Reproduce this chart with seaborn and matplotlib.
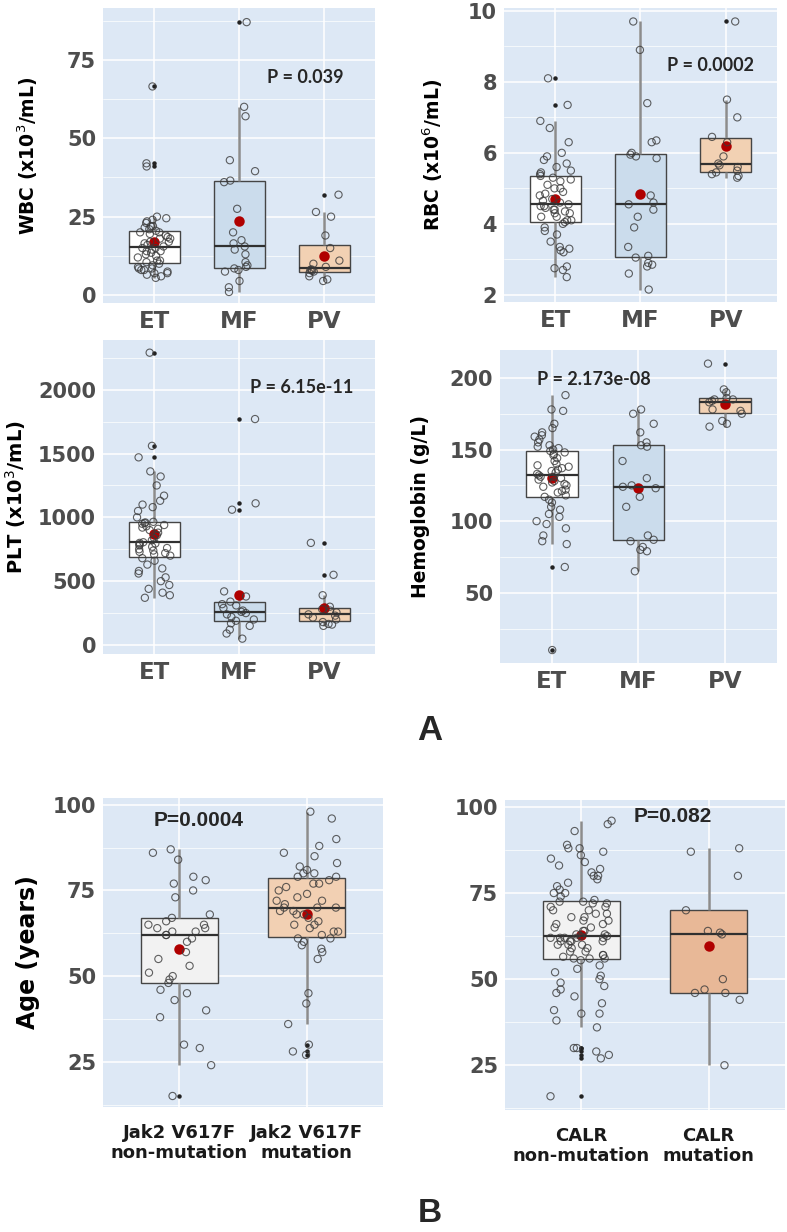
import numpy as np
import pandas as pd
import matplotlib.pyplot as plt
import seaborn as sns
from matplotlib.ticker import MultipleLocator

#------------------------------------------------------------------------------
# data
groups3 = ['ET', 'MF', 'PV']

wbc_et = [5.5, 6, 6.5, 7, 7, 7.5, 8, 8, 8.5, 8.5, 9, 9.5, 10, 10.5, 11, 11, 12, 12.5,
          13, 13.5, 14, 14, 14.5, 15, 15, 15.5, 16, 16.5, 17, 17, 18, 18, 18.5, 19,
          19.5, 20, 20, 20.5, 21, 21.5, 22, 22, 23, 23.5, 24, 24.5, 25, 41, 42, 66.5]
wbc_mf = [1, 2.5, 4.5, 7.5, 8, 8.5, 9, 9.5, 10.5, 13, 14.5, 15.5, 16.5, 17.5, 20,
          27.5, 36, 36.5, 39.5, 43, 57, 60, 87]
wbc_pv = [4.5, 5, 6, 7, 7.5, 7.8, 8, 8.2, 9, 10, 11, 15, 19, 25, 26.5, 32]

rbc_et = [2.5, 2.7, 2.75, 2.8, 3.2, 3.25, 3.3, 3.35, 3.5, 3.7, 3.8, 3.9, 4.0, 4.05,
          4.1, 4.1, 4.2, 4.2, 4.3, 4.3, 4.35, 4.4, 4.4, 4.45, 4.5, 4.5, 4.55, 4.6,
          4.65, 4.7, 4.8, 4.85, 4.9, 5.0, 5.0, 5.1, 5.2, 5.25, 5.3, 5.35, 5.4, 5.45,
          5.5, 5.6, 5.7, 5.8, 5.9, 6.0, 6.3, 6.7, 6.9, 7.35, 8.1]
rbc_mf = [2.15, 2.6, 2.8, 2.85, 2.9, 3.05, 3.1, 3.35, 3.9, 4.2, 4.4, 4.55, 4.6, 4.8,
          5.85, 5.9, 5.95, 6.0, 6.3, 6.35, 7.4, 8.9, 9.7]
rbc_pv = [5.3, 5.35, 5.4, 5.45, 5.5, 5.6, 5.65, 5.7, 5.9, 6.3, 6.45, 7.0, 7.5, 9.7]

plt_et = [370, 390, 410, 440, 470, 500, 530, 560, 580, 600, 630, 660, 680, 700, 710,
          720, 730, 740, 750, 760, 770, 780, 790, 795, 800, 805, 820, 840, 860, 880,
          900, 910, 920, 930, 940, 950, 955, 960, 965, 1000, 1050, 1080, 1100, 1130,
          1170, 1250, 1320, 1360, 1470, 1560, 2290]
plt_mf = [50, 90, 120, 150, 170, 190, 200, 220, 240, 250, 260, 270, 290, 310, 320,
          340, 380, 420, 1060, 1110, 1770]
plt_pv = [150, 160, 165, 180, 200, 215, 230, 240, 255, 270, 280, 300, 390, 550, 800]

hb_et = [10, 68, 84, 86, 90, 95, 98, 100, 103, 105, 108, 110, 113, 115, 117, 118, 120,
         121, 122, 124, 125, 126, 127, 128, 129, 130, 131, 131, 132, 133, 134, 135,
         136, 137, 138, 139, 140, 142, 144, 146, 147, 148, 149, 150, 151, 152, 153,
         155, 157, 159, 160, 162, 165, 168, 177, 178, 188]
hb_mf = [65, 79, 80, 82, 86, 87, 90, 110, 117, 123, 124, 125, 130, 142, 152, 153, 155,
         162, 168, 175, 178]
hb_pv = [166, 168, 170, 175, 177, 178, 183, 184, 185, 185, 186, 190, 192, 210]

jak2_groups = ['Jak2 V617F\nnon-mutation', 'Jak2 V617F\nmutation']
age_jak2_non = [15, 24, 29, 30, 38, 40, 43, 45, 46, 48, 49, 50, 51, 53, 55, 57, 60, 61,
                62, 62, 63, 63, 64, 64, 65, 65, 66, 67, 68, 73, 75, 77, 78, 79, 84, 86, 87]
age_jak2_mut = [27, 28, 30, 36, 42, 45, 55, 57, 58, 59, 60, 61, 61, 62, 63, 63, 64, 65,
                65, 66, 67, 68, 68, 69, 69, 70, 70, 70, 71, 72, 72, 73, 74, 75, 76, 77,
                77, 78, 79, 79, 80, 80, 81, 82, 83, 85, 86, 88, 90, 96, 98]

calr_groups = ['CALR\nnon-mutation', 'CALR\nmutation']
age_calr_non = [16, 27, 28, 29, 30, 30, 36, 38, 40, 40, 41, 43, 45, 46, 47, 48, 49, 50,
                51, 52, 53, 54, 55.5, 56, 56, 56, 56.5, 57, 57, 58, 58, 59, 59, 60, 60,
                60, 61, 61, 61, 61, 62, 62, 62, 62, 62, 62.5, 62.5, 63, 63, 64, 64, 65,
                65, 66, 66, 67, 67, 68, 68, 69, 69, 70, 70, 71, 71, 72, 72, 72.5, 72.5,
                73, 74, 75, 75, 76, 77, 78, 79, 80, 80, 81, 82, 83, 84, 85, 86, 87, 88,
                88, 89, 93, 95, 96]
age_calr_mut = [25, 44, 46, 46, 47, 50, 63, 63.5, 64, 70, 80, 87, 88]

#------------------------------------------------------------------------------
sns.set_style('white')
plt.rcParams['font.family'] = ['DejaVu Sans']
np.random.seed(3)

panel_bg = '#dde8f5'
pal3 = ['#ffffff', '#c6dcf1', '#fdd0a8']


def to_long(groups, values):
    rows = []
    for g, vals in zip(groups, values):
        for v in vals:
            rows.append((g, v))
    return pd.DataFrame(rows, columns=['group', 'value'])


def draw_panel(ax, groups, values, palette, ylim, major, jitter):
    df = to_long(groups, values)
    ax.set_facecolor(panel_bg)
    sns.boxplot(data=df, x='group', y='value', order=groups, hue='group',
                hue_order=groups, palette=palette, legend=False, width=0.6,
                showcaps=False, linewidth=1, ax=ax,
                boxprops=dict(edgecolor='#454545'),
                medianprops=dict(color='#303030', linewidth=1.6),
                whiskerprops=dict(color='#8c8c8c', linewidth=1.8),
                flierprops=dict(marker='o', markersize=2.2, markerfacecolor='#222222',
                                markeredgecolor='#222222'))
    n0 = len(ax.collections)
    sns.stripplot(data=df, x='group', y='value', order=groups, jitter=jitter, size=5.2,
                  color='#666666', linewidth=0.8, edgecolor='#3a3a3a', alpha=0.8, ax=ax)
    for c in ax.collections[n0:]:
        c.set_facecolor('none')
    sns.pointplot(data=df, x='group', y='value', order=groups, estimator='mean',
                  errorbar=None, color='#b00000', markers='o', linestyle='none',
                  markersize=5.5, ax=ax)
    ax.set_xlim(-0.6, len(groups) - 0.4)
    ax.set_ylim(*ylim)
    ax.yaxis.set_major_locator(MultipleLocator(major))
    ax.yaxis.set_minor_locator(MultipleLocator(major / 2))
    ax.set_axisbelow(True)
    ax.grid(which='major', color='white', linewidth=1.1)
    ax.grid(which='minor', axis='y', color='white', linewidth=0.5)
    for s in ax.spines.values():
        s.set_visible(False)
    ax.tick_params(axis='both', which='major', length=3, color='#777777',
                   labelcolor='#4d4d4d', labelsize=15, pad=2)
    ax.tick_params(which='minor', length=0)
    for lbl in ax.get_yticklabels() + ax.get_xticklabels():
        lbl.set_fontweight('bold')
    ax.set_xlabel('')
    ax.set_ylabel('')


fig = plt.figure(figsize=(7.87, 12.32), dpi=100)

# WBC
ax1 = fig.add_axes([0.1309, 0.7541, 0.3456, 0.2394])
draw_panel(ax1, groups3, [wbc_et, wbc_mf, wbc_pv], pal3, (-2.5, 91.5), 25, 0.2)
ax1.set_ylabel('WBC (x10$^3$/mL)', fontsize=13.5, fontweight='bold', color='black')
ax1.yaxis.set_label_coords(-0.232, 0.5)
ax1.text(0.743, 0.763, 'P = 0.039', transform=ax1.transAxes, ha='center', va='center',
         fontsize=13, fontweight='bold', family='Lato')

# RBC
ax2 = fig.add_axes([0.6404, 0.7549, 0.3469, 0.2386])
draw_panel(ax2, groups3, [rbc_et, rbc_mf, rbc_pv], pal3, (1.8, 10.08), 2, 0.2)
ax2.set_ylabel('RBC (x10$^6$/mL)', fontsize=13.5, fontweight='bold', color='black')
ax2.yaxis.set_label_coords(-0.216, 0.5)
ax2.text(0.755, 0.806, 'P = 0.0002', transform=ax2.transAxes, ha='center', va='center',
         fontsize=13, fontweight='bold', family='Lato')

# PLT
ax3 = fig.add_axes([0.1309, 0.4692, 0.3456, 0.2549])
draw_panel(ax3, groups3, [plt_et, plt_mf, plt_pv], pal3, (-70, 2390), 500, 0.2)
ax3.set_ylabel('PLT (x10$^3$/mL)', fontsize=14, fontweight='bold', color='black')
ax3.yaxis.set_label_coords(-0.275, 0.5)
ax3.text(0.73, 0.85, 'P = 6.15e-11', transform=ax3.transAxes, ha='center', va='center',
         fontsize=13, fontweight='bold', family='Lato')

# Hemoglobin
ax4 = fig.add_axes([0.6353, 0.4619, 0.352, 0.254])
draw_panel(ax4, groups3, [hb_et, hb_mf, hb_pv], pal3, (1, 219.5), 50, 0.2)
ax4.set_ylabel('Hemoglobin (g/L)', fontsize=13.5, fontweight='bold', color='black')
ax4.yaxis.set_label_coords(-0.253, 0.5)
ax4.text(0.34, 0.907, 'P = 2.173e-08', transform=ax4.transAxes, ha='center', va='center',
         fontsize=13, fontweight='bold', family='Lato')

for ax in [ax1, ax2, ax3, ax4]:
    ax.tick_params(axis='x', labelsize=16.5)

# Age by Jak2
ax5 = fig.add_axes([0.1309, 0.1015, 0.3558, 0.2508])
draw_panel(ax5, jak2_groups, [age_jak2_non, age_jak2_mut], ['#f2f2f2', '#fccfa8'],
           (11.8, 102), 25, 0.25)
ax5.set_ylabel('Age (years)', fontsize=17, fontweight='bold', color='black')
ax5.yaxis.set_label_coords(-0.225, 0.5)
ax5.text(0.34, 0.926, 'P=0.0004', transform=ax5.transAxes, ha='center', va='center',
         fontsize=15, fontweight='bold', family='Liberation Sans')

# Age by CALR
ax6 = fig.add_axes([0.6417, 0.099, 0.3558, 0.2516])
draw_panel(ax6, calr_groups, [age_calr_non, age_calr_mut], ['#f2f2f2', '#f5b58a'],
           (12, 102), 25, 0.25)
ax6.text(0.6, 0.948, 'P=0.082', transform=ax6.transAxes, ha='center', va='center',
         fontsize=15, fontweight='bold', family='Liberation Sans')

for ax in [ax5, ax6]:
    ax.tick_params(axis='x', labelsize=13, labelcolor='#1a1a1a', pad=9)

fig.text(430 / 787, 1 - 730 / 1232, 'A', fontsize=25, fontweight='bold',
         ha='center', va='center', family='Liberation Sans')
fig.text(430 / 787, 1 - 1214 / 1232, 'B', fontsize=24, fontweight='bold',
         ha='center', va='center', family='Liberation Sans')

fig.savefig('out.png', dpi=100)
